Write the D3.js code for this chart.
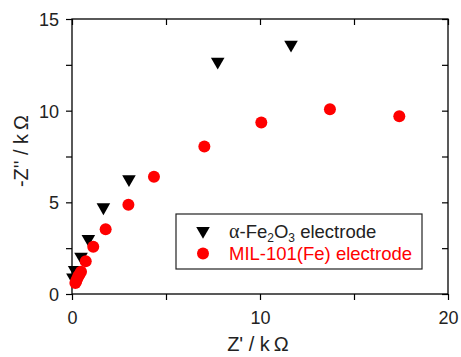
<!DOCTYPE html>
<html><head><meta charset="utf-8">
<script src="https://cdn.jsdelivr.net/npm/d3@7"></script>
<style>body{margin:0;background:#fff;} svg{display:block;font-family:"Liberation Sans",Arial,sans-serif;}</style>
</head><body>
<svg id="c" width="461" height="357"></svg>
<script>
const feX = [0.05, 0.14, 0.48, 0.87, 1.67, 3.03, 7.75, 11.65];
const feY = [0.9, 1.32, 2.04, 3.0, 4.73, 6.27, 12.67, 13.6];
const milX = [0.18, 0.22, 0.27, 0.33, 0.40, 0.48, 0.73, 1.13, 1.79, 3.0, 4.36, 7.04, 10.07, 13.72, 17.41];
const milY = [0.6, 0.7, 0.82, 0.95, 1.08, 1.22, 1.78, 2.58, 3.53, 4.87, 6.4, 8.04, 9.35, 10.08, 9.69];
const xTicks = [0, 10, 20];
const xMinor = [5, 15];
const yTicks = [0, 5, 10, 15];
const yMinor = [2.5, 7.5, 12.5];
const seriesNames = ["α-Fe2O3 electrode", "MIL-101(Fe) electrode"];

const L = 72, R = 448, T = 19, B = 294;
const svg = d3.select("#c");
const x = d3.scaleLinear().domain([0, 20]).range([L, R]);
const y = d3.scaleLinear().domain([0, 15]).range([B, T]);

// frame
svg.append("rect").attr("x", L).attr("y", T).attr("width", R - L).attr("height", B - T)
  .attr("fill", "none").attr("stroke", "#000").attr("stroke-width", 1.3);

const fs = "18px";
// bottom axis
const xa = svg.append("g").attr("transform", `translate(0,${B})`)
  .call(d3.axisBottom(x).tickValues(xTicks.concat(xMinor)).tickSize(6).tickFormat(d => xTicks.includes(d) ? d : ""));
xa.select(".domain").remove();
xa.selectAll("line").attr("stroke-width", 1.2);
xa.selectAll("text").attr("font-size", fs).attr("font-family", "Liberation Sans, Arial, sans-serif").attr("dy", "0").attr("y", 30).attr("fill", "#222");
// left axis
const ya = svg.append("g").attr("transform", `translate(${L},0)`)
  .call(d3.axisLeft(y).tickValues(yTicks.concat(yMinor)).tickSize(6).tickFormat(d => yTicks.includes(d) ? d : ""));
ya.select(".domain").remove();
ya.selectAll("line").attr("stroke-width", 1.2);
ya.selectAll("text").attr("font-size", fs).attr("font-family", "Liberation Sans, Arial, sans-serif").attr("x", -13).attr("dy", "0.36em").attr("fill", "#222");
// right axis inward ticks
const ra = svg.append("g").attr("transform", `translate(${R},0)`)
  .call(d3.axisRight(y).tickValues(yTicks.concat(yMinor)).tickSize(-6).tickFormat(""));
ra.select(".domain").remove();
ra.selectAll("line").attr("stroke-width", 1.2);
// top axis inward ticks
const ta = svg.append("g").attr("transform", `translate(0,${T})`)
  .call(d3.axisTop(x).tickValues(xTicks.concat(xMinor)).tickSize(-6).tickFormat(""));
ta.select(".domain").remove();
ta.selectAll("line").attr("stroke-width", 1.2);

// axis titles
svg.append("text").attr("x", 258).attr("y", 351).attr("text-anchor", "middle")
  .attr("font-size", "20px").attr("fill", "#222").text("Z' / k\u2009Ω");
svg.append("text").attr("transform", "translate(28,151) rotate(-90)").attr("text-anchor", "middle")
  .attr("font-size", "20px").attr("fill", "#222").text("-Z'' / k\u2009Ω");

// data
const tri = d3.symbol().type(d3.symbolTriangle).size(80);
const fe = feX.map((v, i) => [v, feY[i]]);
const mil = milX.map((v, i) => [v, milY[i]]);
svg.append("g").selectAll("path").data(fe).join("path")
  .attr("d", tri).attr("transform", d => `translate(${x(d[0])},${y(d[1])}) rotate(180)`).attr("fill", "#000");
svg.append("g").selectAll("circle").data(mil).join("circle")
  .attr("cx", d => x(d[0])).attr("cy", d => y(d[1])).attr("r", 6).attr("fill", "#ff0000");

// legend
const lg = svg.append("g");
lg.append("rect").attr("x", 176).attr("y", 214).attr("width", 246).attr("height", 55)
  .attr("fill", "#fff").attr("stroke", "#222").attr("stroke-width", 1.2);
lg.append("path").attr("d", tri).attr("transform", "translate(203,231) rotate(180)").attr("fill", "#000");
lg.append("circle").attr("cx", 203).attr("cy", 253.5).attr("r", 6).attr("fill", "#ff0000");
const t1 = lg.append("text").attr("x", 229).attr("y", 237.5).attr("font-size", "18.5px").attr("fill", "#222");
t1.append("tspan").text("α").attr("font-family", "Liberation Serif, Times New Roman, serif").attr("font-size", "20px");
t1.append("tspan").text("-Fe");
t1.append("tspan").text("2").attr("font-size", "12px").attr("dy", 4);
t1.append("tspan").text("O").attr("dy", -4);
t1.append("tspan").text("3").attr("font-size", "12px").attr("dy", 4);
t1.append("tspan").text(" electrode").attr("dy", -4);
lg.append("text").attr("x", 229).attr("y", 260).attr("font-size", "18.5px").attr("fill", "#ff0000").text(seriesNames[1]);
</script>
</body></html>
